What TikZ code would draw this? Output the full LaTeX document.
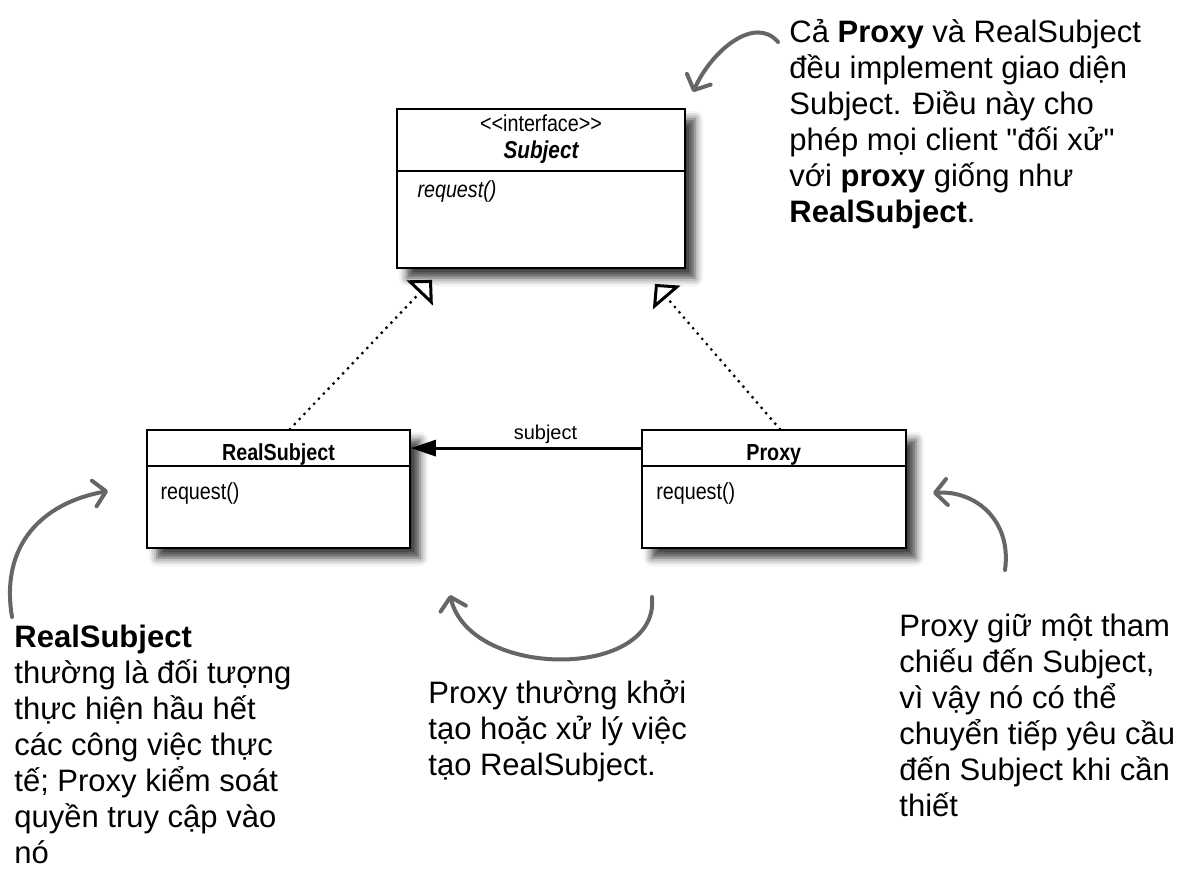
\documentclass[tikz,border=0pt]{standalone}
\usepackage{fontspec}
\setmainfont{Liberation Sans}[Ligatures=TeXOff]
\newfontfamily\umlfont[FakeStretch=0.85]{Liberation Sans}
\usepackage{tikz}
\usetikzlibrary{arrows.meta,positioning,shadows.blur}
\usepackage{xcolor}
\definecolor{noteGray}{HTML}{666666}
\newcommand{\notefont}{\fontsize{15.5pt}{18pt}\selectfont}
\newcommand{\umlsize}{\umlfont\fontsize{11.6pt}{13pt}\selectfont}
\newcommand{\firstline}{\rule{0pt}{16pt}}

\begin{document}
\begin{tikzpicture}[
    x=0.5pt,y=-0.5pt,
    umlbox/.style={draw,line width=0.9pt,fill=white,inner sep=0pt,
      blur shadow={shadow xshift=5pt,shadow yshift=-5pt,shadow blur radius=4pt,shadow opacity=75}},
    umltext/.style={inner sep=0pt,font=\umlsize},
    realize/.style={line width=1.6pt,dash pattern=on 0pt off 3.5pt,line cap=round,
      -{Triangle[open,fill=white,length=9pt,width=18pt,line width=1.5pt]}},
    assoc/.style={line width=1.5pt,-{Triangle[length=12.5pt,width=8pt]}},
    note/.style={anchor=north west,inner sep=0pt,align=left,font=\notefont},
    scribble/.style={noteGray,line width=2pt,line cap=round,
      -{Straight Barb[length=6pt,width=13pt,round]}}
  ]
    \useasboundingbox (0,0) rectangle (1177,883);

    % CLASSES
    \node[umlbox,minimum width=144pt,minimum height=79.5pt] (sub) at (541,188.5) {};
    \node[umlbox,minimum width=131.5pt,minimum height=59pt] (realsub) at (278.5,489) {};
    \node[umlbox,minimum width=132pt,minimum height=59pt,right=115pt of realsub] (proxy) {};

    % compartments
    \draw[line width=0.9pt] ([yshift=-31.5pt]sub.north west) -- ([yshift=-31.5pt]sub.north east);
    \draw[line width=0.9pt] ([yshift=-18.5pt]realsub.north west) -- ([yshift=-18.5pt]realsub.north east);
    \draw[line width=0.9pt] ([yshift=-18.5pt]proxy.north west) -- ([yshift=-18.5pt]proxy.north east);

    \node[umltext,anchor=base] (substereo) at ([yshift=-11.5pt]sub.north) {<<interface>>};
    \node[umltext,anchor=base,font=\umlfont\fontsize{12.2pt}{14pt}\selectfont\bfseries\itshape] (subname) at ([yshift=-25pt]sub.north) {Subject};
    \node[umltext,anchor=base west,font=\umlsize\itshape] (subop) at ([xshift=10.5pt,yshift=-44.5pt]sub.north west) {request()};

    \node[umltext,anchor=base,font=\umlsize\bfseries] (rsname) at ([yshift=-15.5pt]realsub.north) {RealSubject};
    \node[umltext,anchor=base west] (rsop) at ([xshift=7pt,yshift=-35pt]realsub.north west) {request()};

    \node[umltext,anchor=base,font=\umlsize\bfseries] (pxname) at ([yshift=-15.5pt]proxy.north) {Proxy};
    \node[umltext,anchor=base west] (pxop) at ([xshift=7.5pt,yshift=-35pt]proxy.north west) {request()};

    % Arrows - realization and association
    \draw[realize] ([xshift=5.75pt]realsub.north) -- ([xshift=-54.5pt,yshift=-5.5pt]sub.south);
    \draw[realize] ([xshift=3pt]proxy.north) -- ([xshift=57pt,yshift=-7.5pt]sub.south);
    \draw[assoc] ([yshift=-9.5pt]proxy.north west) -- node[pos=0.415,anchor=base,yshift=4.5pt,inner sep=0pt,font=\fontsize{10pt}{12pt}\selectfont] (sublabel) {subject} ([yshift=-9.5pt]realsub.north east);

    % NOTES
    \node[note] (topnote) at (789,10) {\firstline Cả \textbf{Proxy} và RealSubject\\đều implement giao diện\\Subject. Điều này cho\\phép mọi client "đối xử"\\với \textbf{proxy} giống như\\\textbf{RealSubject}.};
    \node[note] (rsnote) at (14,615) {\firstline\textbf{RealSubject}\\thường là đối tượng\\thực hiện hầu hết\\các công việc thực\\tế; Proxy kiểm soát\\quyền truy cập vào\\nó};
    \node[note] (midnote) at (428,671) {\firstline Proxy thường khởi\\tạo hoặc xử lý việc\\tạo RealSubject.};
    \node[note] (pxnote) at (899,604) {\firstline Proxy giữ một tham\\chiếu đến Subject,\\vì vậy nó có thể\\chuyển tiếp yêu cầu\\đến Subject khi cần\\thiết};

    % hand-drawn pointers
    \coordinate (topS) at (778,42);
    \coordinate (topT) at (693,92);
    \coordinate (rsS) at (12,617);
    \coordinate (rsT) at (108,491);
    \coordinate (pxS) at (1005,570);
    \coordinate (pxT) at (933,493);
    \coordinate (midS) at (652,597);
    \coordinate (midT) at (450,595);
    \draw[scribble] (topS) .. controls (755,15) and (712,50) .. (topT);
    \draw[scribble] (rsS) .. controls (0,545) and (42,503) .. (rsT);
    \draw[scribble] (pxS) .. controls (1012,520) and (975,490) .. (pxT);
    \draw[scribble] (midS) .. controls (660,680) and (470,680) .. (midT);
  \end{tikzpicture}
\end{document}
